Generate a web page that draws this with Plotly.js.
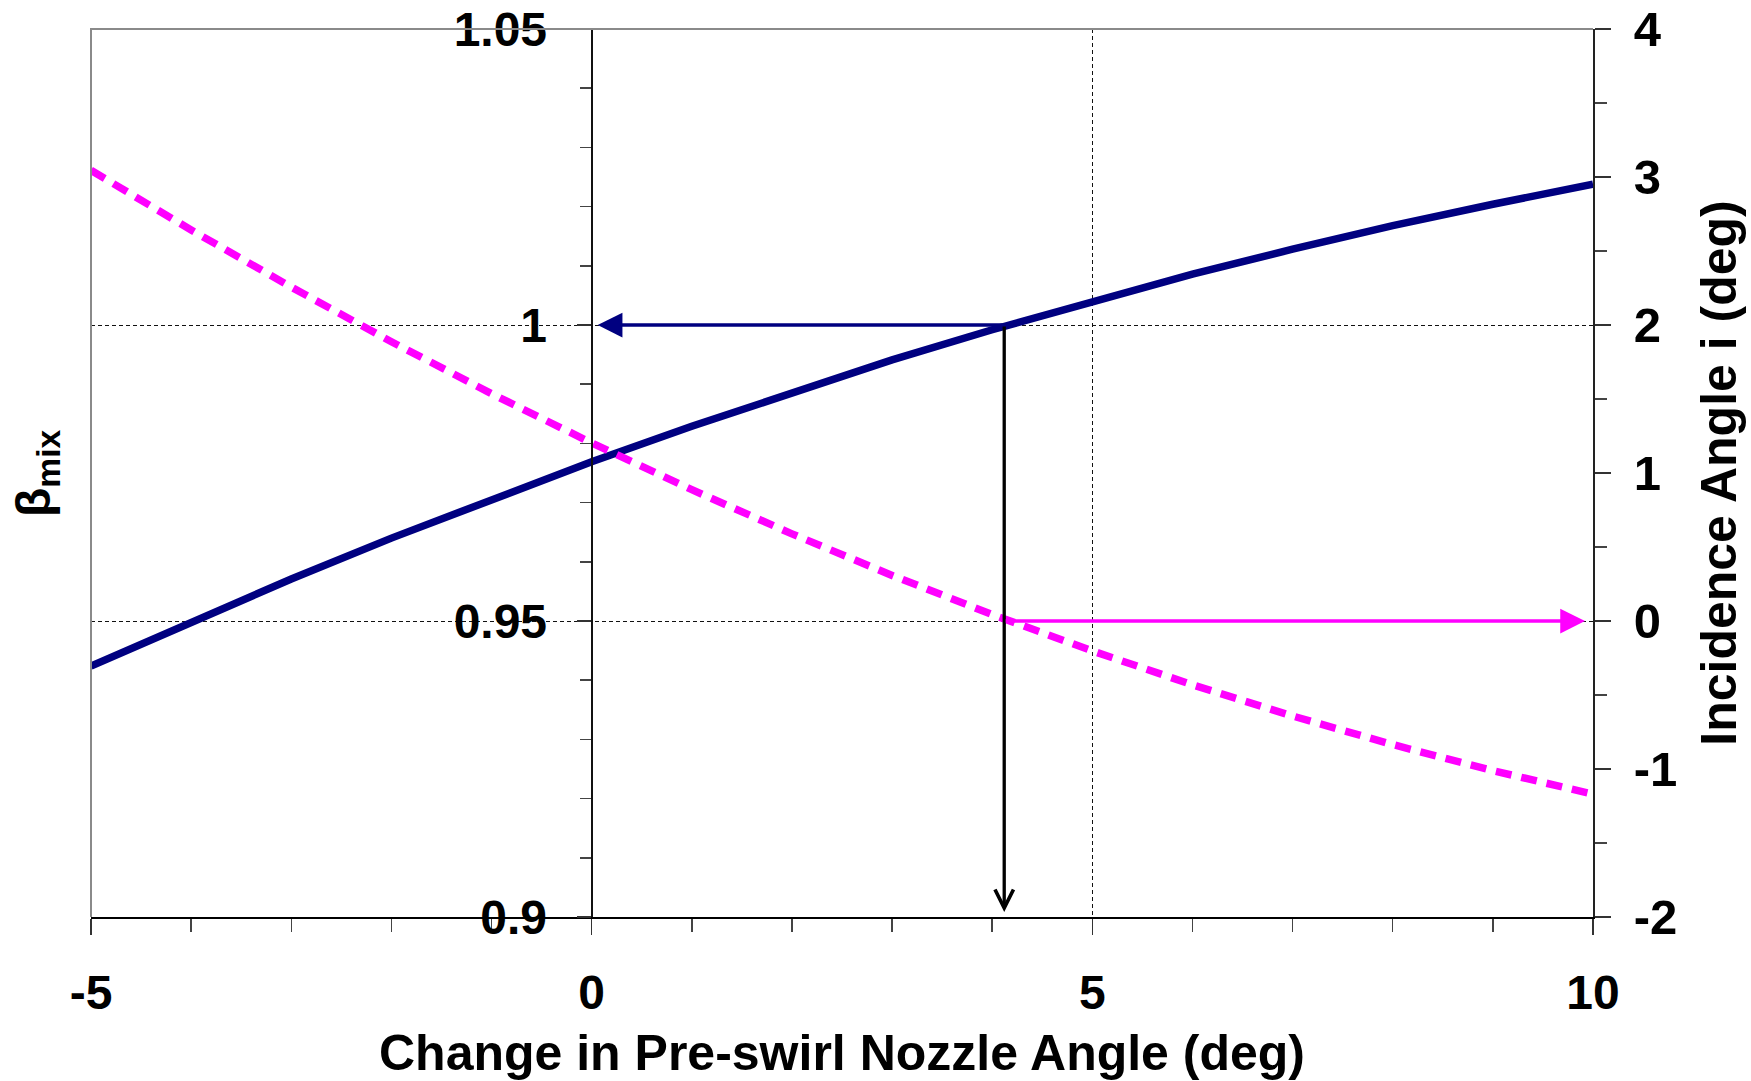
<!DOCTYPE html>
<html>
<head>
<meta charset="utf-8">
<script src="https://cdn.plot.ly/plotly-3.0.1.min.js"></script>
<style>
html,body{margin:0;padding:0;background:#ffffff;}
#chart{width:1751px;height:1081px;}
</style>
</head>
<body>
<div id="chart"></div>
<script>
// ---- data ----
const nozzleAngle = [-5, -4, -3, -2, -1, 0, 1, 2, 3, 4, 5, 6, 7, 8, 9, 10];
const betaMix = [0.9424, 0.9499, 0.9571, 0.9640, 0.9706, 0.9769, 0.9829, 0.9886, 0.9941, 0.9992, 1.0040, 1.0086, 1.0128, 1.0168, 1.0204, 1.0238];
const incidenceAngle = [3.045, 2.642, 2.256, 1.887, 1.536, 1.203, 0.887, 0.589, 0.308, 0.044, -0.202, -0.431, -0.642, -0.835, -1.011, -1.170];

const xTickVals = [-5, 0, 5, 10];
const xTickText = ['-5', '0', '5', '10'];
const betaTickVals = [0.9, 0.95, 1, 1.05];
const betaTickText = ['0.9', '0.95', '1', '1.05'];
const incTickVals = [-2, -1, 0, 1, 2, 3, 4];
const incTickText = ['-2', '-1', '0', '1', '2', '3', '4'];

const crossAngle = 4.12;   // nozzle angle where beta_mix = 1 and incidence = 0
const betaTarget = 1.0;
const incTarget = 0;
const xRange = [-5, 10];
const betaRange = [0.9, 1.05];
const incRange = [-2, 4];

// ---- styling ----
const FONT = 'Liberation Sans, Arial, sans-serif';
const NAVY = '#000080';
const MAGENTA = '#FF00FF';

const traces = [
  {
    x: nozzleAngle, y: betaMix, type: 'scatter', mode: 'lines',
    line: {color: NAVY, width: 7.5}, xaxis: 'x', yaxis: 'y', hoverinfo: 'skip', showlegend: false
  },
  {
    x: nozzleAngle, y: incidenceAngle, type: 'scatter', mode: 'lines',
    line: {color: MAGENTA, width: 7.5, dash: '16px,10px'}, xaxis: 'x', yaxis: 'y2', hoverinfo: 'skip', showlegend: false
  }
];

const layout = {
  width: 1751, height: 1081,
  margin: {l: 91, r: 158, t: 29, b: 164},
  paper_bgcolor: '#ffffff', plot_bgcolor: '#ffffff',
  showlegend: false,
  font: {family: FONT, color: '#000'},
  xaxis: {
    range: xRange, domain: [0, 1], anchor: 'y',
    showline: true, linecolor: '#000', linewidth: 2,
    ticks: 'outside', ticklen: 16, tickwidth: 1.5, tickcolor: '#333',
    tickmode: 'array', tickvals: xTickVals, ticktext: xTickText,
    tickfont: {family: FONT, size: 48, color: '#000', weight: 'bold'},
    ticklabelstandoff: 16,
    showgrid: true, gridcolor: '#111', gridwidth: 1, griddash: '4px,3px',
    zeroline: true, zerolinecolor: '#111', zerolinewidth: 2,
    minor: {tickmode: 'linear', tick0: 0, dtick: 1, ticks: 'outside', ticklen: 13, tickwidth: 1.5, tickcolor: '#444', showgrid: false},
    title: {text: 'Change in Pre-swirl Nozzle Angle (deg)', font: {family: FONT, size: 50, color: '#000', weight: 'bold'}, standoff: 24},
    automargin: false
  },
  yaxis: {
    range: betaRange, anchor: 'free', position: 1/3, side: 'left',
    showline: true, linecolor: '#111', linewidth: 2,
    ticks: 'outside', ticklen: 14, tickwidth: 1.5, tickcolor: '#333',
    tickmode: 'array', tickvals: betaTickVals, ticktext: betaTickText,
    tickfont: {family: FONT, size: 48, color: '#000', weight: 'bold'},
    ticklabelstandoff: 20,
    showgrid: true, gridcolor: '#111', gridwidth: 1, griddash: '4px,3px',
    zeroline: false,
    minor: {tickmode: 'linear', tick0: 0.9, dtick: 0.01, ticks: 'outside', ticklen: 11, tickwidth: 1.5, tickcolor: '#444', showgrid: false},
    automargin: false
  },
  yaxis2: {
    range: incRange, overlaying: 'y', anchor: 'x', side: 'right',
    showline: true, linecolor: '#222', linewidth: 2,
    ticks: 'outside', ticklen: 16, tickwidth: 1.5, tickcolor: '#333',
    tickmode: 'array', tickvals: incTickVals, ticktext: incTickText,
    tickfont: {family: FONT, size: 49, color: '#000', weight: 'bold'},
    ticklabelstandoff: 13,
    showgrid: false, zeroline: false,
    minor: {tickmode: 'linear', tick0: 0, dtick: 0.5, ticks: 'outside', ticklen: 12, tickwidth: 1.5, tickcolor: '#444', showgrid: false},
    title: {text: 'Incidence Angle i (deg)', font: {family: FONT, size: 50, color: '#000', weight: 'bold'}, standoff: 25},
    automargin: false
  },
  yaxis3: {
    range: incRange, overlaying: 'y', anchor: 'x', side: 'right',
    showline: false, showgrid: false, zeroline: false, showticklabels: false,
    ticks: 'inside', ticklen: 16, tickwidth: 1.5, tickcolor: '#333',
    tickmode: 'array', tickvals: incTickVals
  },
  shapes: [
    {type: 'path', xref: 'paper', yref: 'paper', path: 'M0,0 L0,1 L1,1', line: {color: '#8a8a8a', width: 2}, layer: 'above'}
  ],
  annotations: [
    // beta_mix axis title (left edge of the figure)
    {xref: 'paper', yref: 'paper', x: -0.036, y: 0.5, xanchor: 'center', yanchor: 'middle',
     text: 'β<sub>mix</sub>', textangle: -90, showarrow: false,
     font: {family: FONT, size: 48, color: '#000', weight: 'bold'}},
    // arrow from curve crossing to beta = 1 on left axis
    {xref: 'x', yref: 'y', axref: 'x', ayref: 'y', x: 0, y: betaTarget, ax: crossAngle, ay: betaTarget,
     text: '', showarrow: true, arrowhead: 2, arrowsize: 1.5, arrowwidth: 3.3, arrowcolor: NAVY, standoff: 6},
    // vertical arrow down to x axis
    {xref: 'x', yref: 'y', axref: 'x', ayref: 'y', x: crossAngle, y: betaRange[0], ax: crossAngle, ay: betaTarget,
     text: '', showarrow: true, arrowhead: 5, arrowsize: 1.1, arrowwidth: 3.3, arrowcolor: '#000', standoff: 5},
    // arrow from incidence crossing to right axis
    {xref: 'x', yref: 'y2', axref: 'x', ayref: 'y2', x: xRange[1], y: incTarget, ax: crossAngle, ay: incTarget,
     text: '', showarrow: true, arrowhead: 2, arrowsize: 1.5, arrowwidth: 3.3, arrowcolor: MAGENTA, standoff: 8}
  ]
};

Plotly.newPlot('chart', traces, layout, {staticPlot: true, displayModeBar: false});
</script>
</body>
</html>
